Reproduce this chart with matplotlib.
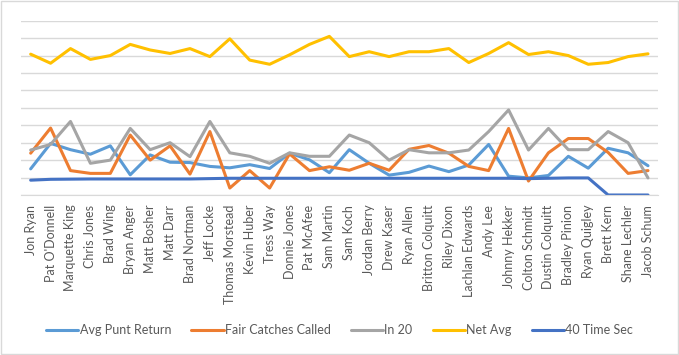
import matplotlib
matplotlib.use("Agg")
import matplotlib.pyplot as plt
from matplotlib.patches import Rectangle

players = ["Jon Ryan", "Pat O'Donnell", "Marquette King", "Chris Jones", "Brad Wing",
           "Bryan Anger", "Matt Bosher", "Matt Darr", "Brad Nortman", "Jeff Locke",
           "Thomas Morstead", "Kevin Huber", "Tress Way", "Donnie Jones", "Pat McAfee",
           "Sam Martin", "Sam Koch", "Jordan Berry", "Drew Kaser", "Ryan Allen",
           "Britton Colquitt", "Riley Dixon", "Lachlan Edwards", "Andy Lee", "Johnny Hekker",
           "Colton Schmidt", "Dustin Colquitt", "Bradley Pinion", "Ryan Quigley", "Brett Kern",
           "Shane Lechler", "Jacob Schum"]

avg_punt_return = [7.5, 14.8, 13.0, 11.7, 14.1, 5.8, 11.5, 9.4, 9.3, 8.2, 7.8, 8.7, 7.6, 12.0, 10.1, 6.4,
                   13.0, 9.1, 5.7, 6.5, 8.3, 6.7, 8.6, 14.5, 5.4, 4.9, 5.6, 11.1, 7.7, 13.4, 12.1, 8.4]
fair_catches = [12.0, 19.2, 7.0, 6.2, 6.2, 17.2, 10.0, 14.1, 6.0, 18.2, 2.0, 7.0, 2.0, 11.8, 7.0, 8.1,
                7.1, 9.1, 7.1, 13.1, 14.2, 12.0, 8.2, 7.0, 19.1, 4.0, 12.1, 16.2, 16.2, 12.2, 6.2, 7.0]
in_20 = [12.9, 14.5, 21.1, 9.1, 10.0, 19.1, 13.0, 15.0, 11.0, 21.1, 12.1, 11.1, 9.1, 12.1, 11.1, 11.1,
         17.2, 15.0, 10.0, 13.0, 12.1, 12.1, 12.9, 18.2, 24.4, 12.9, 19.1, 13.0, 13.0, 18.2, 15.0, 4.9]
net_avg = [40.4, 37.8, 42.0, 38.9, 40.0, 43.2, 41.6, 40.6, 42.0, 39.7, 44.8, 38.7, 37.5, 40.2, 43.2, 45.5,
           39.7, 41.1, 39.7, 41.1, 41.1, 42.0, 38.0, 40.6, 43.7, 40.3, 41.1, 40.0, 37.5, 38.0, 39.7, 40.5]
forty_time = [4.25, 4.5, 4.55, 4.6, 4.6, 4.6, 4.6, 4.6, 4.6, 4.7, 4.8, 4.8, 4.8, 4.8, 4.8, 4.8,
              4.8, 4.8, 4.8, 4.8, 4.8, 4.8, 4.8, 4.8, 4.8, 4.7, 4.8, 4.9, 4.9, 0, 0, 0]

series = [
    ("Avg Punt Return", avg_punt_return, "#5B9BD5"),
    ("Fair Catches Called", fair_catches, "#ED7D31"),
    ("In 20", in_20, "#A5A5A5"),
    ("Net Avg", net_avg, "#FFC000"),
    ("40 Time Sec", forty_time, "#4472C4"),
]

plt.rcParams['font.family'] = ['Lato', 'DejaVu Sans']

fig = plt.figure(figsize=(6.79, 3.55), dpi=100)
ax = fig.add_axes([0.0305, 0.4507, 0.9385, 0.491])

x = list(range(len(players)))
for name, vals, col in series:
    ax.plot(x, vals, color=col, lw=2.2, label=name, solid_joinstyle='round', solid_capstyle='round')

ax.set_ylim(0, 50)
ax.set_xlim(-0.5, len(players) - 0.5)
ax.set_yticks(range(0, 51, 5))
ax.yaxis.grid(True, color="#D9D9D9", lw=1)
ax.set_axisbelow(True)
ax.tick_params(axis='y', left=False, labelleft=False)
ax.set_xticks(x)
ax.set_xticklabels(players, rotation=90, fontsize=9, color="#595959")
ax.tick_params(axis='x', length=0, pad=7)
for s in ["top", "right", "left"]:
    ax.spines[s].set_visible(False)
ax.spines["bottom"].set_color("#D9D9D9")

leg = fig.legend(loc='center', bbox_to_anchor=(0.5, 0.07), ncol=5, frameon=False,
                 fontsize=9, handlelength=2.6, handletextpad=0.1, columnspacing=1.6)
for t in leg.get_texts():
    t.set_color("#595959")

fig.patches.append(Rectangle((0.001, 0.002), 0.997, 0.995, transform=fig.transFigure,
                             fill=False, edgecolor="#D9D9D9", lw=1))

fig.savefig("out.png", dpi=100)
